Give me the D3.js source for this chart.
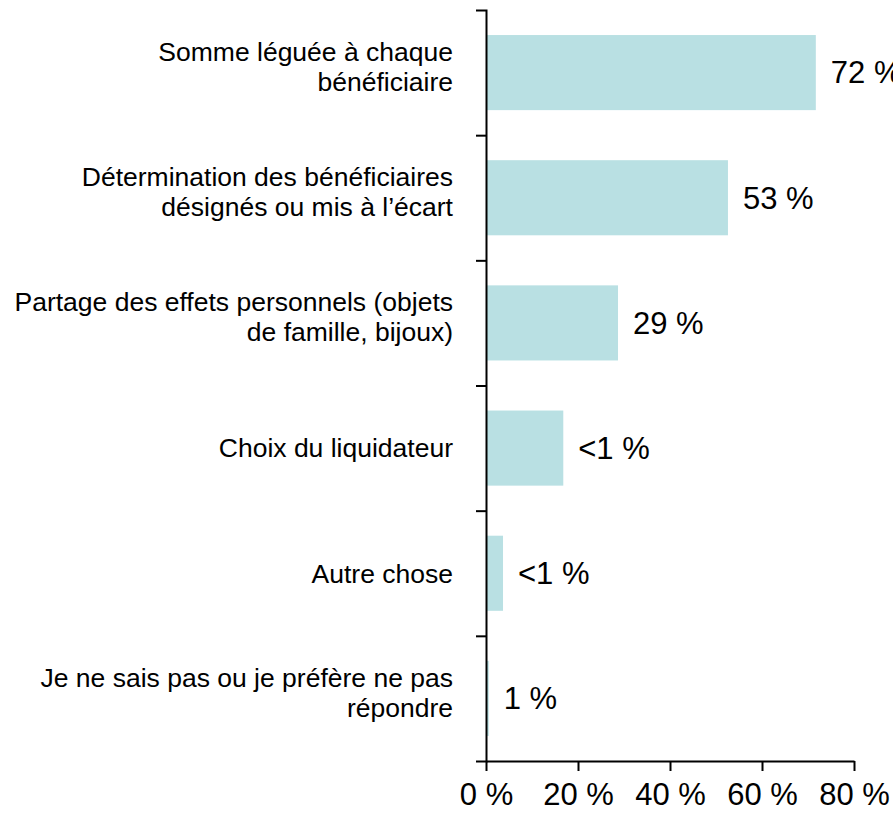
<!DOCTYPE html>
<html>
<head>
<meta charset="utf-8">
<script src="https://cdn.jsdelivr.net/npm/d3@7"></script>
<style>
  body { margin: 0; background: #fff; }
  text { font-family: "Liberation Sans", Arial, sans-serif; fill: #000; }
</style>
</head>
<body>
<div class="chart"></div>
<script>
var categories = [
  'Somme léguée à chaque\nbénéficiaire',
  'Détermination des bénéficiaires\ndésignés ou mis à l’écart',
  'Partage des effets personnels (objets\nde famille, bijoux)',
  'Choix du liquidateur',
  'Autre chose',
  'Je ne sais pas ou je préfère ne pas\nrépondre'
];
var values = [71.7, 52.6, 28.7, 16.8, 3.7, 0.6];
var valueLabels = ['72 %', '53 %', '29 %', '<1 %', '<1 %', '1 %'];
var xTicks = [0, 20, 40, 60, 80];

var width = 893,
    height = 821,
    axisX = 486,
    plotTop = 10,
    plotBottom = 761;

var svg = d3.select('.chart').append('svg')
  .attr('width', width)
  .attr('height', height);

var x = d3.scaleLinear()
  .domain([0, 80])
  .range([axisX, 854]);

var y = d3.scaleBand()
  .domain(d3.range(categories.length))
  .range([plotTop, plotBottom])
  .paddingInner(0.4)
  .paddingOuter(0.2);

// bars
svg.append('g').attr('class', 'bars')
  .selectAll('rect')
  .data(values)
  .enter().append('rect')
    .attr('x', x(0))
    .attr('y', function(d, i) { return y(i); })
    .attr('width', function(d) { return x(d) - x(0); })
    .attr('height', y.bandwidth())
    .attr('fill', '#b9e0e3');

// value labels
svg.append('g').attr('class', 'values')
  .selectAll('text')
  .data(values)
  .enter().append('text')
    .attr('x', function(d) { return x(d) + 15; })
    .attr('y', function(d, i) { return y(i) + y.bandwidth() / 2; })
    .attr('dy', '0.35em')
    .style('font-size', '31px')
    .text(function(d, i) { return valueLabels[i]; });

// y axis: ticks sit between the categories
var yLine = d3.scaleLinear()
  .domain([0, categories.length])
  .range([plotTop, plotBottom]);

svg.append('g')
  .attr('transform', 'translate(' + axisX + ',0)')
  .call(d3.axisLeft(yLine)
    .tickValues(d3.range(1, categories.length))
    .tickSize(10)
    .tickSizeOuter(10)
    .tickFormat(''));

// x axis
var xAxis = svg.append('g')
  .attr('transform', 'translate(0,' + plotBottom + ')')
  .call(d3.axisBottom(x)
    .tickValues(xTicks)
    .tickSize(10)
    .tickSizeOuter(0)
    .tickPadding(12)
    .tickFormat(function(d) { return d + ' %'; }));

xAxis.selectAll('text')
  .style('font-size', '31px')
  .attr('dy', '0.71em');

svg.selectAll('.domain, .tick line')
  .attr('stroke', '#000')
  .attr('stroke-width', 2);

// category labels, right aligned left of the axis
var labels = svg.append('g').attr('class', 'categories')
  .selectAll('text')
  .data(categories)
  .enter().append('text')
    .attr('text-anchor', 'end')
    .style('font-size', '26.5px');

labels.each(function(d, i) {
  var lines = d.split('\n'),
      c = y(i) + y.bandwidth() / 2,
      start = lines.length > 1 ? c - 21 : c;
  d3.select(this).selectAll('tspan')
    .data(lines)
    .enter().append('tspan')
      .attr('x', 453)
      .attr('y', function(l, j) { return start + j * 30; })
      .attr('dy', '0.35em')
      .text(function(l) { return l; });
});
</script>
</body>
</html>
